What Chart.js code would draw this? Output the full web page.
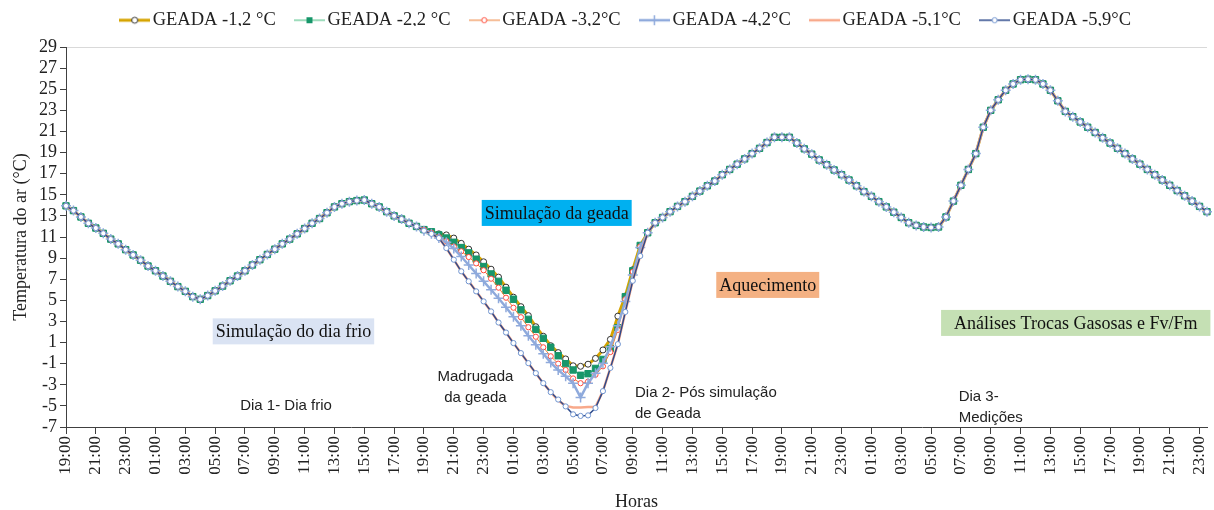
<!DOCTYPE html>
<html>
<head>
<meta charset="utf-8">
<script src="https://cdn.jsdelivr.net/npm/chart.js@4.4.1/dist/chart.umd.min.js"></script>
<style>
  body { margin: 0; background: #fff; }
  #wrap { width: 1214px; height: 510px; }
</style>
</head>
<body>
<div id="wrap"><canvas id="canvas1"></canvas></div>
<script>
// half-hourly readings, 19:00 (day 0) to 23:30 (day 3)

// shared curve, 19:00 -> 18:30 (cold day)
const coldDay = [
  13.95, 13.5, 12.9, 12.3, 11.85, 11.35, 10.8, 10.35, 9.8, 9.3,
  8.8, 8.25, 7.8, 7.3, 6.8, 6.3, 5.85, 5.35, 5.1, 5.45,
  5.9, 6.35, 6.85, 7.3, 7.8, 8.35, 8.85, 9.35, 9.85, 10.35,
  10.8, 11.3, 11.8, 12.3, 12.75, 13.3, 13.85, 14.15, 14.35, 14.45,
  14.5, 14.15, 13.85, 13.4, 13.0, 12.7, 12.3, 12.0
];

// frost night, 19:00 -> 09:30, one list per treatment
const night12 = [
  11.7, 11.5, 11.3, 11.2, 10.9, 10.4, 9.85, 9.3, 8.65, 7.95,
  7.2, 6.25, 5.3, 4.4, 3.55, 2.5, 1.6, 0.7, 0.05, -0.55,
  -1.2, -1.25, -1.05, -0.5, 0.3, 1.3, 3.5, 5.4, 7.9, 10.2
];
const night22 = [
  11.7, 11.5, 11.2, 10.9, 10.5, 10.0, 9.5, 8.9, 8.2, 7.5,
  6.8, 5.95, 5.1, 4.1, 3.2, 2.25, 1.4, 0.55, -0.25, -1.0,
  -1.6, -2.1, -1.95, -1.45, -0.6, 0.45, 2.4, 5.35, 7.8, 10.2
];
const night32 = [
  11.7, 11.4, 11.0, 10.6, 10.1, 9.65, 9.1, 8.5, 7.85, 7.05,
  6.2, 5.25, 4.3, 3.4, 2.45, 1.55, 0.55, -0.3, -1.0, -1.6,
  -2.4, -2.85, -2.7, -2.05, -1.25, 0.1, 2.2, 5.1, 7.7, 10.1
];
const night42 = [
  11.6, 11.3, 10.9, 10.5, 9.9, 9.15, 8.35, 7.55, 6.8, 6.0,
  5.2, 4.35, 3.45, 2.6, 1.65, 0.8, -0.05, -0.9, -1.6, -2.2,
  -2.85, -4.2, -2.85, -1.9, -0.95, 0.6, 2.6, 4.9, 7.4, 10.0
];
const night51 = [
  11.6, 11.3, 10.9, 9.95, 8.85, 7.75, 6.8, 5.85, 4.9, 3.95,
  2.9, 1.95, 0.95, 0.0, -0.95, -1.9, -2.85, -3.7, -4.5, -5.0,
  -5.15, -5.15, -5.1, -5.1, -3.6, -1.4, 0.85, 3.9, 6.85, 9.2
];
const night59 = [
  11.6, 11.3, 10.9, 9.95, 8.85, 7.75, 6.8, 5.85, 4.9, 3.95,
  2.9, 1.95, 0.95, 0.0, -0.95, -1.9, -2.85, -3.7, -4.4, -5.05,
  -5.8, -5.95, -5.9, -5.2, -3.6, -1.4, 0.85, 3.9, 6.85, 9.2
];

// shared curve again, 10:00 (day 2) -> 23:30 (day 3)
const afterFrost = [
  11.4, 12.35, 12.85, 13.4, 13.9, 14.35, 14.85, 15.35, 15.85, 16.3,
  16.9, 17.4, 17.9, 18.4, 18.9, 19.4, 19.95, 20.45, 20.45, 20.45,
  19.9, 19.35, 18.85, 18.3, 17.85, 17.35, 16.9, 16.4, 15.85, 15.3,
  14.85, 14.35, 13.85, 13.35, 12.85, 12.35, 12.1, 11.95, 11.9, 11.95,
  12.9, 14.4, 15.9, 17.4, 18.9, 21.4, 23.0, 24.0, 24.9, 25.5,
  25.9, 25.95, 25.9, 25.5, 24.9, 23.9, 22.9, 22.4, 21.9, 21.4,
  20.9, 20.4, 19.9, 19.4, 18.9, 18.4, 17.9, 17.4, 16.9, 16.4,
  15.9, 15.4, 14.9, 14.4, 13.9, 13.4
];

const seriesNames = ["GEADA -1,2 °C", "GEADA -2,2 °C", "GEADA -3,2°C", "GEADA -4,2°C", "GEADA -5,1°C", "GEADA -5,9°C"];
const nights = [night12, night22, night32, night42, night51, night59];

// category labels every 30 min
const hours = [];
for (let k = 0; k < coldDay.length + night12.length + afterFrost.length; k++) {
  const m = 19 * 60 + 30 * k;
  const h = Math.floor(m / 60) % 24;
  hours.push(String(h).padStart(2, "0") + ":" + (m % 60 === 0 ? "00" : "30"));
}

// text boxes, placed by category index / temperature
const notes = [
  { lines: ["Simulação da geada"], i: 65.8, v: 13.28, bg: "#00B0F0", pad: 3 },
  { lines: ["Aquecimento"], i: 94.1, v: 6.46, bg: "#F4B183", pad: 3 },
  { lines: ["Simulação do dia frio"], i: 30.5, v: 2.06, bg: "#DAE3F3", pad: 3 },
  { lines: ["Análises Trocas Gasosas e Fv/Fm"], i: 135.4, v: 2.86, bg: "#C5E0B4", pad: 13 },
  { lines: ["Dia 1- Dia frio"], i: 29.5, v: -5.0, align: "center" },
  { lines: ["Madrugada", "da geada"], i: 54.9, v: -2.25, align: "center" },
  { lines: ["Dia 2- Pós simulação", "de Geada"], i: 76.3, v: -3.77, align: "left" },
  { lines: ["Dia 3-", "Medições"], i: 119.7, v: -4.14, align: "left" }
];

const styles = [
  { color: "#D6A400", width: 3, point: "circle", r: 3, pBorder: "#333333", pFill: "#ffffff", pw: 1 },
  { color: "#3CB878", width: 1, point: "rect", r: 4.5, pBorder: "#17966A", pFill: "#17966A", pw: 1 },
  { color: "#ED7D31", width: 1, point: "circle", r: 2.6, pBorder: "#FF4A3A", pFill: "#ffffff", pw: 1 },
  { color: "#8FAADC", width: 2.5, point: "cross", r: 5, pBorder: "#8FAADC", pFill: "#8FAADC", pw: 1.5 },
  { color: "#F8A98B", width: 2.5, point: false, r: 0, pBorder: "#F8A98B", pFill: "#F8A98B", pw: 1 },
  { color: "#2F4B8C", width: 1.5, point: "circle", r: 2.6, pBorder: "#7094CF", pFill: "#ffffff", pw: 1 }
];

function legendIcon(s) {
  const c = document.createElement("canvas");
  c.width = 31; c.height = 14;
  const g = c.getContext("2d");
  g.strokeStyle = s.color; g.lineWidth = s.width;
  g.beginPath(); g.moveTo(0, 7); g.lineTo(31, 7); g.stroke();
  if (s.point) {
    g.lineWidth = s.pw; g.strokeStyle = s.pBorder; g.fillStyle = s.pFill;
    g.beginPath();
    if (s.point === "circle") { g.arc(15.5, 7, s.r, 0, Math.PI * 2); g.fill(); g.stroke(); }
    else if (s.point === "rect") { g.rect(12.5, 4, 6, 6); g.fill(); }
    else { g.moveTo(15.5, 2); g.lineTo(15.5, 12); g.moveTo(10.5, 7); g.lineTo(20.5, 7); g.stroke(); }
  }
  return c;
}

const datasets = seriesNames.map((name, n) => {
  const s = styles[n];
  return {
    label: name,
    data: coldDay.concat(nights[n], afterFrost),
    borderColor: s.color,
    backgroundColor: s.color,
    borderWidth: s.width,
    pointStyle: s.point,
    pointRadius: s.r,
    pointBorderColor: s.pBorder,
    pointBackgroundColor: s.pFill,
    pointBorderWidth: s.pw,
    tension: 0,
    order: seriesNames.length - n
  };
});

const notesPlugin = {
  id: "notes",
  afterLayout(chart) {
    // move legend row up and a little right of centre, as in the original
    const lg = chart.legend;
    lg.left += 20; lg.right += 20;
    lg.top -= 21; lg.bottom -= 21;
  },
  afterDatasetsDraw(chart) {
    const ctx = chart.ctx, xs = chart.scales.x, ys = chart.scales.y;
    ctx.save();
    notes.forEach(nt => {
      const x = xs.getPixelForValue(nt.i), y = ys.getPixelForValue(nt.v);
      if (nt.bg) {
        ctx.font = "18px 'Liberation Serif'";
        const w = ctx.measureText(nt.lines[0]).width + nt.pad * 2;
        ctx.fillStyle = nt.bg;
        ctx.fillRect(x - w / 2, y - 13, w, 26);
        ctx.fillStyle = "#111";
        ctx.textAlign = "center"; ctx.textBaseline = "middle";
        ctx.fillText(nt.lines[0], x, y + 1);
      } else {
        ctx.font = "15px 'Liberation Sans'";
        ctx.fillStyle = "#222";
        ctx.textAlign = nt.align; ctx.textBaseline = "middle";
        nt.lines.forEach((t, k) => ctx.fillText(t, x, y + k * 21));
      }
    });
    ctx.restore();
  }
};

window.onload = function () {
  let ctx1 = document.getElementById("canvas1").getContext("2d");
  Chart.defaults.font.family = "'Liberation Serif', 'Times New Roman', serif";
  Chart.defaults.color = "#222";
  new Chart(ctx1, {
    type: "line",
    data: { labels: hours, datasets: datasets },
    plugins: [notesPlugin],
    options: {
      responsive: true,
      maintainAspectRatio: false,
      animation: false,
      events: [],
      layout: { padding: { left: 10, right: 7, top: 0, bottom: -3 } },
      plugins: {
        tooltip: { enabled: false },
        legend: {
          position: "top",
          maxHeight: 40,
          labels: {
            usePointStyle: true,
            pointStyleWidth: 17.5,
            padding: 25,
            font: { size: 18.5 },
            generateLabels: (chart) => chart.data.datasets.map((ds, n) => ({
              text: ds.label,
              pointStyle: legendIcon(styles[n]),
              datasetIndex: n,
              hidden: false,
              fontColor: "#222",
              lineWidth: 0,
              strokeStyle: "transparent",
              fillStyle: "transparent"
            }))
          }
        }
      },
      scales: {
        x: {
          type: "category",
          offset: false,
          afterFit: (s) => { s.height = 86; s.paddingLeft = 0; s.paddingRight = 0; },
          border: { color: "#404040", width: 1 },
          grid: {
            drawOnChartArea: false,
            tickLength: 7,
            tickColor: (c) => (c.index % 4 === 0 ? "#404040" : "rgba(0,0,0,0)")
          },
          ticks: {
            autoSkip: false,
            maxRotation: 90,
            minRotation: 90,
            font: { size: 17 },
            padding: 2,
            callback: (v, idx) => (idx % 4 === 0 ? hours[idx] : "")
          },
          title: { display: true, text: "Horas", font: { size: 18 }, padding: { top: 6, bottom: 0 } }
        },
        y: {
          min: -7,
          max: 29,
          afterFit: (s) => { s.width = 56; s.paddingTop = 47; },
          border: { color: "#404040", width: 1 },
          grid: {
            tickLength: 6,
            tickColor: "#404040",
            color: (c) => (c.tick && c.tick.value === 29 ? "#D9D9D9" : "rgba(0,0,0,0)")
          },
          ticks: { stepSize: 2, autoSkip: false, font: { size: 18 }, padding: 3 },
          title: { display: true, text: "Temperatura do ar (°C)", font: { size: 18 }, padding: { top: 0, bottom: 2 } }
        }
      }
    }
  });
};
</script>
</body>
</html>
